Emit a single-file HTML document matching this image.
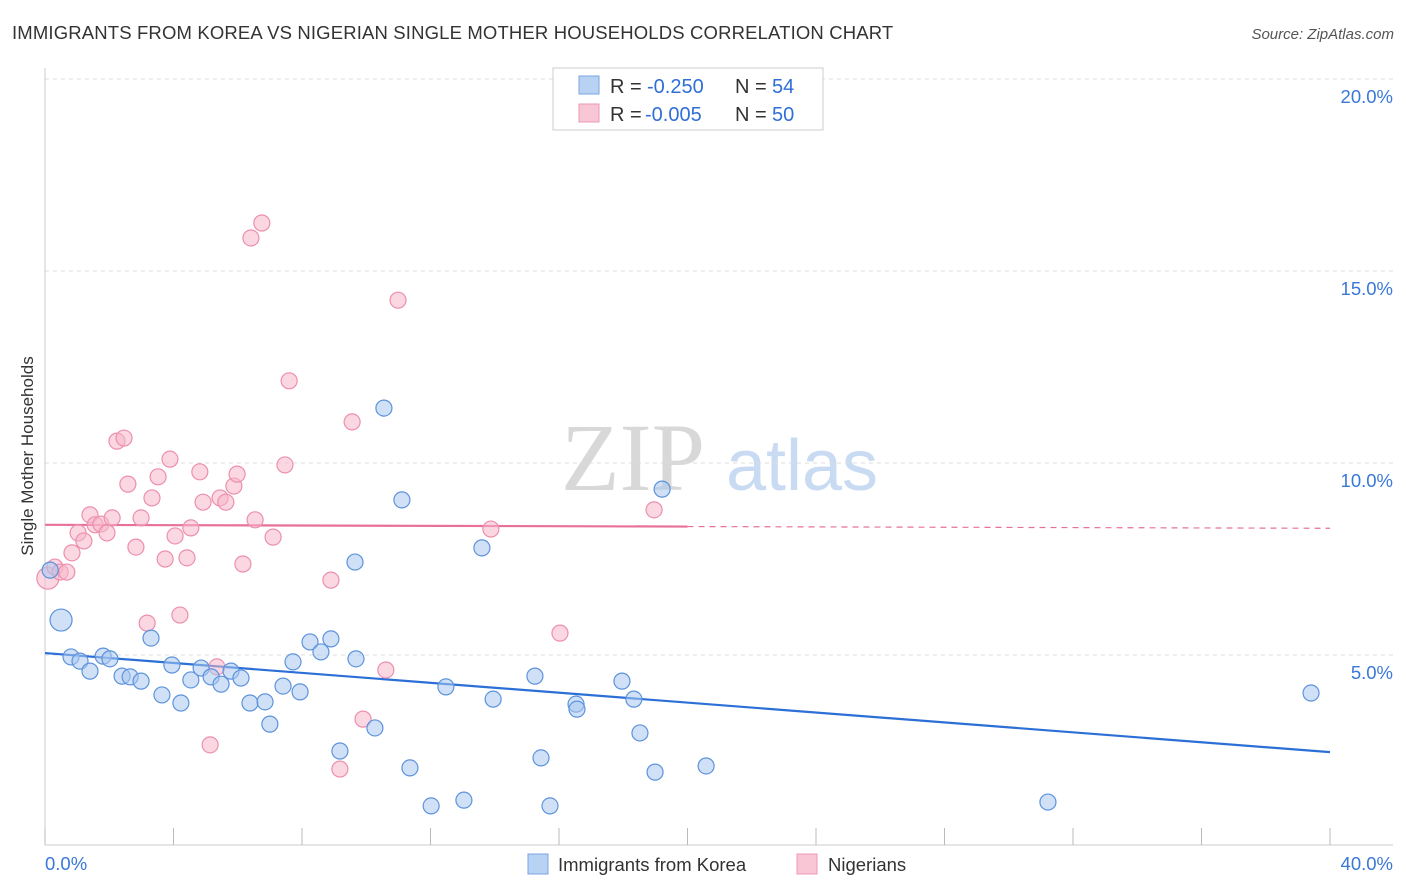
<!DOCTYPE html>
<html><head><meta charset="utf-8"><style>
body{margin:0;background:#fff;font-family:"Liberation Sans",sans-serif}
svg{display:block}
</style></head><body>
<svg id="chart" width="1406" height="892">
<text x="12" y="39" font-size="18.5" letter-spacing="0.15" fill="#333">IMMIGRANTS FROM KOREA VS NIGERIAN SINGLE MOTHER HOUSEHOLDS CORRELATION CHART</text>
<text x="1394" y="39" font-size="15" fill="#555" font-style="italic" text-anchor="end">Source: ZipAtlas.com</text>
<text transform="translate(33,456) rotate(-90)" font-size="17" fill="#333" text-anchor="middle">Single Mother Households</text>
<g>
<text x="633" y="490" font-size="96" fill="#d8d8d8" font-family="Liberation Serif,serif" text-anchor="middle">ZIP</text>
<text x="802" y="490" font-size="72" fill="#c9dbf2" text-anchor="middle">atlas</text>
</g>
<g id="grid"></g><g id="axes"></g><g id="lines"></g><g id="pts"></g>
<g>
<rect x="553" y="68" width="270" height="62" fill="#fff" stroke="#ccc"/>
<rect x="579" y="76" width="20" height="18" fill="#b8d2f3" stroke="#7aa7e2"/>
<rect x="579" y="104" width="20" height="18" fill="#f8c6d5" stroke="#ee9ab5"/>
<text x="610" y="93" font-size="20" fill="#333">R =</text>
<text x="647" y="93" font-size="20" fill="#2f6fd6">-0.250</text>
<text x="735" y="93" font-size="20" fill="#333">N =</text>
<text x="772" y="93" font-size="20" fill="#2f6fd6">54</text>
<text x="610" y="121" font-size="20" fill="#333">R =</text>
<text x="645" y="121" font-size="20" fill="#2f6fd6">-0.005</text>
<text x="735" y="121" font-size="20" fill="#333">N =</text>
<text x="772" y="121" font-size="20" fill="#2f6fd6">50</text>
</g>
<g>
<rect x="528" y="854" width="20" height="20" fill="#b8d2f3" stroke="#7aa7e2"/>
<text x="558" y="871" font-size="18.5" fill="#333">Immigrants from Korea</text>
<rect x="797" y="854" width="20" height="20" fill="#f8c6d5" stroke="#ee9ab5"/>
<text x="828" y="871" font-size="18.5" fill="#333">Nigerians</text>
</g>
</svg>
<script>
const koreaX=[0.50,0.81,1.09,1.40,1.81,2.02,2.40,2.65,2.99,3.30,3.64,3.95,4.23,4.54,4.86,5.17,5.48,5.79,6.10,6.38,6.85,7.00,7.41,7.72,7.94,8.25,8.59,8.90,9.18,9.68,9.65,10.27,10.55,11.11,11.36,12.02,12.48,13.04,13.60,13.95,15.25,15.44,15.72,16.53,16.56,17.96,18.33,18.52,18.99,19.21,20.58,31.22,39.41,0.16];
const koreaY=[5.91,4.95,4.84,4.58,4.97,4.90,4.45,4.43,4.32,5.44,3.96,4.74,3.75,4.35,4.66,4.43,4.24,4.58,4.40,3.75,3.78,3.20,4.19,4.82,4.04,5.34,5.08,5.42,2.50,4.90,7.42,3.10,11.43,9.04,2.06,1.07,4.17,1.22,7.79,3.85,4.45,2.32,1.07,3.72,3.59,4.32,3.85,2.97,1.95,9.32,2.11,1.17,4.01,7.21];
const nigX=[0.09,0.31,0.47,0.68,0.84,1.03,1.21,1.40,1.56,1.74,1.93,2.09,2.24,2.46,2.58,2.83,2.99,3.18,3.33,3.52,3.74,3.89,4.05,4.20,4.42,4.54,4.82,4.92,5.14,5.35,5.45,5.63,5.88,5.98,6.16,6.41,6.54,6.75,7.10,7.47,7.60,8.90,9.18,9.56,9.90,10.61,10.99,13.88,16.03,18.96];
const nigY=[7.00,7.29,7.16,7.16,7.66,8.18,7.97,8.65,8.39,8.41,8.18,8.57,10.57,10.65,9.45,7.81,8.57,5.83,9.09,9.64,7.50,10.10,8.10,6.04,7.53,8.31,9.77,8.98,2.66,4.69,9.09,8.98,9.40,9.71,7.37,15.86,8.52,16.25,8.07,9.95,12.14,6.95,2.03,11.07,3.33,4.61,14.24,8.28,5.57,8.78];
const koreaTrend=[5.05,2.47];
const nigTrend=[8.39,8.30];
const yTicks=[5,10,15,20];
const xTickLabels=["0.0%","40.0%"];
const NS="http://www.w3.org/2000/svg";
const sx=v=>45+v*32.125, sy=v=>847-v*38.4;
function mk(tag,attrs,parent){const e=document.createElementNS(NS,tag);for(const k in attrs)e.setAttribute(k,attrs[k]);document.getElementById(parent).appendChild(e);return e;}
yTicks.forEach(t=>{
 const l=mk('line',{x1:45,x2:1393,y1:sy(t),y2:sy(t),stroke:'#ddd','stroke-dasharray':'4,4'},'grid');
 
 
 const tx=mk('text',{x:1393,y:sy(t)+24,'font-size':18.5,fill:'#3a78d8','text-anchor':'end'},'axes');
 tx.textContent=t.toFixed(1)+'%';
 
 
});
const ax=mk('line',{x1:45,x2:1393,y1:845,y2:845,stroke:'#ccc'},'axes');


const ay=mk('line',{x1:45,x2:45,y1:68,y2:845,stroke:'#ccc'},'axes');


for(let i=0;i<=10;i++){const t=mk('line',{x1:sx(i*4),x2:sx(i*4),y1:828,y2:845,stroke:'#bbb'},'axes');
 
 }
const xl0=mk('text',{x:45,y:870,'font-size':18.5,fill:'#3a78d8'},'axes');xl0.textContent=xTickLabels[0];


const xl1=mk('text',{x:1393,y:870,'font-size':18.5,fill:'#3a78d8','text-anchor':'end'},'axes');xl1.textContent=xTickLabels[1];


function dots(X,Y,fill,stroke,name){X.forEach((x,i)=>{
 const big=(x<0.6&&i===0);
 const c=mk('circle',{cx:sx(x),cy:sy(Y[i]),r:big?11:8,fill:fill,'fill-opacity':0.55,stroke:stroke,'stroke-width':1.2},'pts');
 
 
});}
dots(nigX,nigY,'#f7b6ca','#ec8fae','nigerians-point');
dots(koreaX,koreaY,'#a9c8f0','#5d93dc','korea-point');
const bl=mk('line',{x1:sx(0),y1:sy(koreaTrend[0]),x2:sx(40),y2:sy(koreaTrend[1]),stroke:'#2c6fd6','stroke-width':2.2},'lines');


const pm=v=>nigTrend[0]+(nigTrend[1]-nigTrend[0])*v/40;
const p1=mk('line',{x1:sx(0),y1:sy(pm(0)),x2:sx(20),y2:sy(pm(20)),stroke:'#e8709a','stroke-width':2.2},'lines');


const p2=mk('line',{x1:sx(20),y1:sy(pm(20)),x2:sx(40),y2:sy(pm(40)),stroke:'#e8709a','stroke-width':1.2,'stroke-dasharray':'6,5'},'lines');


</script>
</body></html>
